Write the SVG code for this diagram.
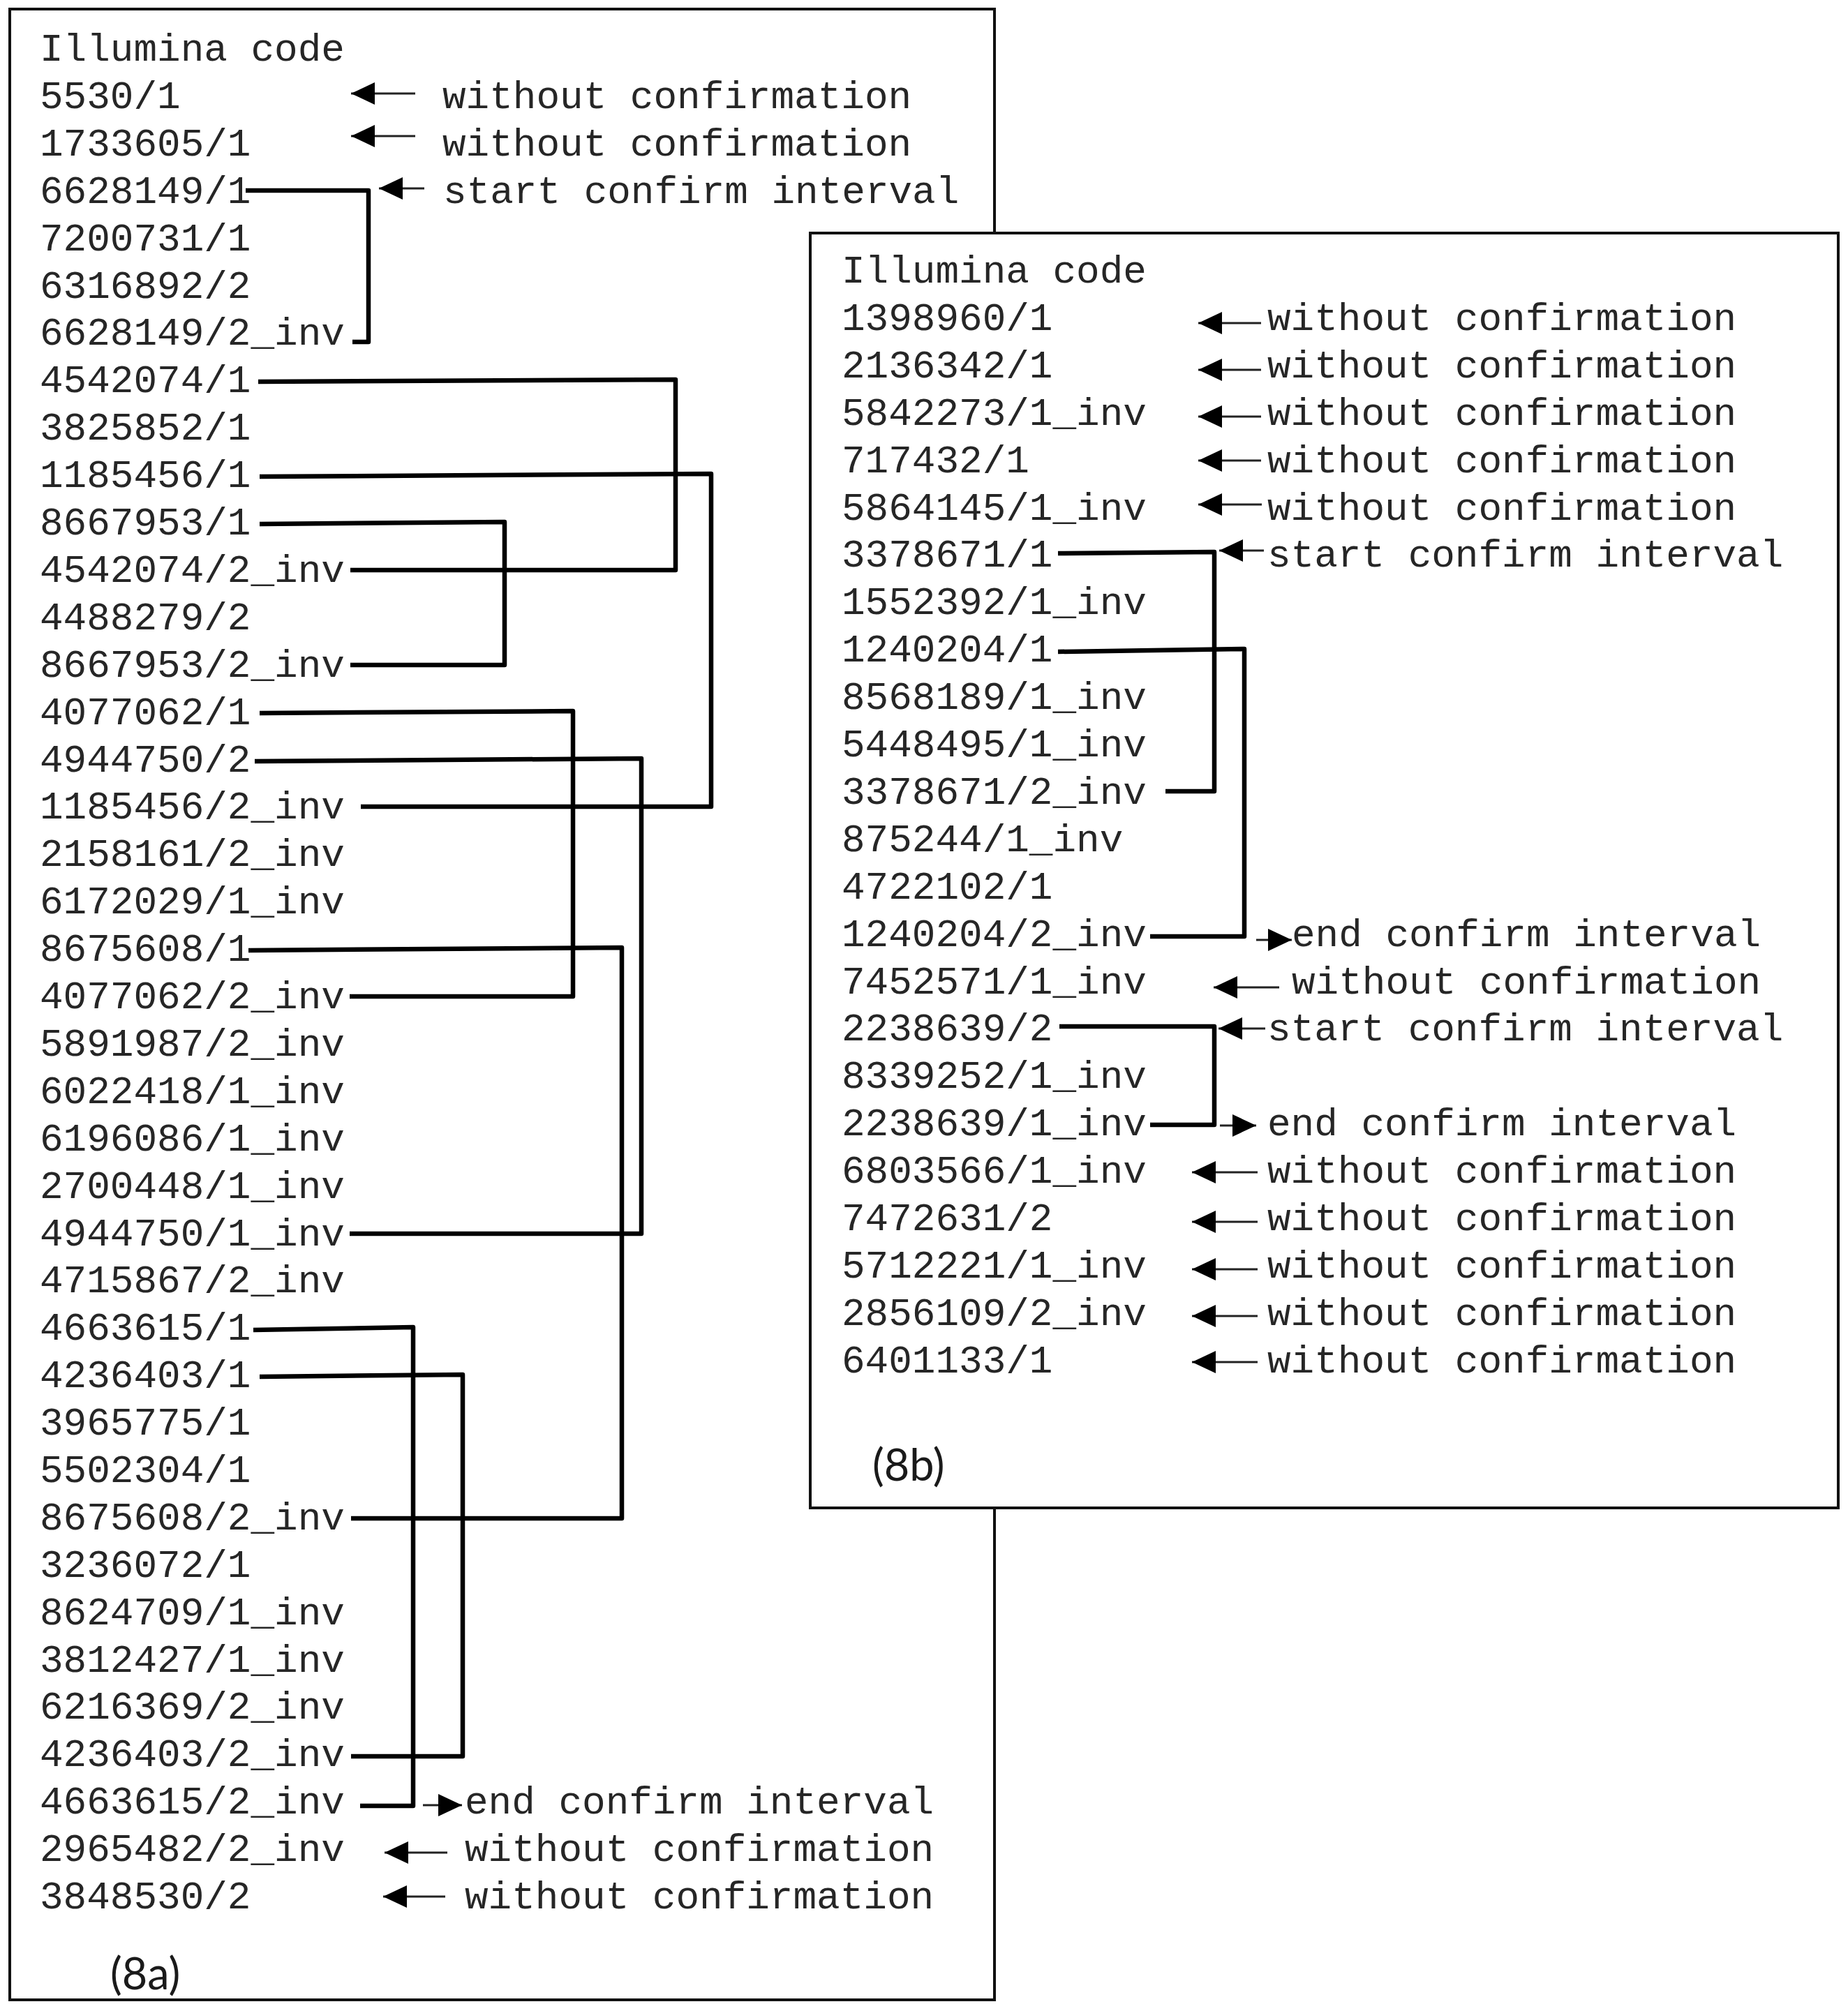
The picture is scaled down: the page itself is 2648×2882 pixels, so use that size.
<svg xmlns="http://www.w3.org/2000/svg" width="2648" height="2882" viewBox="0 0 2648 2882">
<defs>
<style>
.t{font-family:"Liberation Mono","Courier New",monospace;font-size:56px;fill:#262626}
.lab{font-family:Lato,"Liberation Sans",sans-serif;font-size:63px;fill:#1a1a1a}
.box{fill:#fff;stroke:#111;stroke-width:4}
.c{fill:none;stroke:#000;stroke-width:6.5;stroke-linejoin:round}
.ar{fill:none;stroke:#222;stroke-width:3;marker-end:url(#ah)}
</style>
<marker id="ah" markerUnits="userSpaceOnUse" markerWidth="36" markerHeight="34" refX="34" refY="16" orient="auto">
<path d="M0,0 L34,16 L0,32 Z" fill="#000"/>
</marker>
</defs>
<rect width="2648" height="2882" fill="#fff"/>

<g id="panel-8a">
<rect class="box" x="14" y="13" width="1411" height="2853"/>
<g id="a-r0"><text class="t" x="57" y="87">Illumina code</text></g>
<g id="a-r1"><text class="t" x="57" y="155">5530/1</text></g>
<g id="a-r2"><text class="t" x="57" y="223">1733605/1</text></g>
<g id="a-r3"><text class="t" x="57" y="291">6628149/1</text></g>
<g id="a-r4"><text class="t" x="57" y="359">7200731/1</text></g>
<g id="a-r5"><text class="t" x="57" y="427">6316892/2</text></g>
<g id="a-r6"><text class="t" x="57" y="494">6628149/2_inv</text></g>
<g id="a-r7"><text class="t" x="57" y="562">4542074/1</text></g>
<g id="a-r8"><text class="t" x="57" y="630">3825852/1</text></g>
<g id="a-r9"><text class="t" x="57" y="698">1185456/1</text></g>
<g id="a-r10"><text class="t" x="57" y="766">8667953/1</text></g>
<g id="a-r11"><text class="t" x="57" y="834">4542074/2_inv</text></g>
<g id="a-r12"><text class="t" x="57" y="902">4488279/2</text></g>
<g id="a-r13"><text class="t" x="57" y="970">8667953/2_inv</text></g>
<g id="a-r14"><text class="t" x="57" y="1038">4077062/1</text></g>
<g id="a-r15"><text class="t" x="57" y="1106">4944750/2</text></g>
<g id="a-r16"><text class="t" x="57" y="1173">1185456/2_inv</text></g>
<g id="a-r17"><text class="t" x="57" y="1241">2158161/2_inv</text></g>
<g id="a-r18"><text class="t" x="57" y="1309">6172029/1_inv</text></g>
<g id="a-r19"><text class="t" x="57" y="1377">8675608/1</text></g>
<g id="a-r20"><text class="t" x="57" y="1445">4077062/2_inv</text></g>
<g id="a-r21"><text class="t" x="57" y="1513">5891987/2_inv</text></g>
<g id="a-r22"><text class="t" x="57" y="1581">6022418/1_inv</text></g>
<g id="a-r23"><text class="t" x="57" y="1649">6196086/1_inv</text></g>
<g id="a-r24"><text class="t" x="57" y="1717">2700448/1_inv</text></g>
<g id="a-r25"><text class="t" x="57" y="1785">4944750/1_inv</text></g>
<g id="a-r26"><text class="t" x="57" y="1852">4715867/2_inv</text></g>
<g id="a-r27"><text class="t" x="57" y="1920">4663615/1</text></g>
<g id="a-r28"><text class="t" x="57" y="1988">4236403/1</text></g>
<g id="a-r29"><text class="t" x="57" y="2056">3965775/1</text></g>
<g id="a-r30"><text class="t" x="57" y="2124">5502304/1</text></g>
<g id="a-r31"><text class="t" x="57" y="2192">8675608/2_inv</text></g>
<g id="a-r32"><text class="t" x="57" y="2260">3236072/1</text></g>
<g id="a-r33"><text class="t" x="57" y="2328">8624709/1_inv</text></g>
<g id="a-r34"><text class="t" x="57" y="2396">3812427/1_inv</text></g>
<g id="a-r35"><text class="t" x="57" y="2463">6216369/2_inv</text></g>
<g id="a-r36"><text class="t" x="57" y="2531">4236403/2_inv</text></g>
<g id="a-r37"><text class="t" x="57" y="2599">4663615/2_inv</text></g>
<g id="a-r38"><text class="t" x="57" y="2667">2965482/2_inv</text></g>
<g id="a-r39"><text class="t" x="57" y="2735">3848530/2</text></g>
<g id="a-n1"><text class="t" x="634" y="155">without confirmation</text></g>
<g id="a-n2"><text class="t" x="634" y="223">without confirmation</text></g>
<g id="a-n3"><text class="t" x="635" y="291">start confirm interval</text></g>
<g id="a-n37"><text class="t" x="666" y="2599">end confirm interval</text></g>
<g id="a-n38"><text class="t" x="666" y="2667">without confirmation</text></g>
<g id="a-n39"><text class="t" x="666" y="2735">without confirmation</text></g>
<g id="a-label"><text class="lab" x="158" y="2851">(8a)</text></g>
</g>

<g id="connectors-8a">
<path class="c" d="M352,273 H528 V490 H505"/>
<path class="c" d="M370,547 L968,544 V817 H502"/>
<path class="c" d="M372,683 L1019,679 V1156 H517"/>
<path class="c" d="M372,751 L723,748 V953 H502"/>
<path class="c" d="M372,1022 L821,1019 V1428 H501"/>
<path class="c" d="M365,1091 L919,1087 V1768 H501"/>
<path class="c" d="M356,1362 L891,1358 V2176 H503"/>
<path class="c" d="M363,1906 L592,1902 V2588 H516"/>
<path class="c" d="M372,1973 L663,1970 V2517 H503"/>
<line class="ar" x1="595" y1="134" x2="503" y2="134"/>
<line class="ar" x1="595" y1="195" x2="503" y2="195"/>
<line class="ar" x1="608" y1="270" x2="543" y2="270"/>
<line class="ar" x1="606" y1="2587" x2="662" y2="2587"/>
<line class="ar" x1="641" y1="2655" x2="551" y2="2655"/>
<line class="ar" x1="638" y1="2718" x2="549" y2="2718"/>
</g>

<g id="panel-8b">
<rect class="box" x="1161" y="334" width="1473" height="1827"/>
<g id="b-r0"><text class="t" x="1206" y="405">Illumina code</text></g>
<g id="b-r1"><text class="t" x="1206" y="473">1398960/1</text></g>
<g id="b-r2"><text class="t" x="1206" y="541">2136342/1</text></g>
<g id="b-r3"><text class="t" x="1206" y="609">5842273/1_inv</text></g>
<g id="b-r4"><text class="t" x="1206" y="677">717432/1</text></g>
<g id="b-r5"><text class="t" x="1206" y="745">5864145/1_inv</text></g>
<g id="b-r6"><text class="t" x="1206" y="812">3378671/1</text></g>
<g id="b-r7"><text class="t" x="1206" y="880">1552392/1_inv</text></g>
<g id="b-r8"><text class="t" x="1206" y="948">1240204/1</text></g>
<g id="b-r9"><text class="t" x="1206" y="1016">8568189/1_inv</text></g>
<g id="b-r10"><text class="t" x="1206" y="1084">5448495/1_inv</text></g>
<g id="b-r11"><text class="t" x="1206" y="1152">3378671/2_inv</text></g>
<g id="b-r12"><text class="t" x="1206" y="1220">875244/1_inv</text></g>
<g id="b-r13"><text class="t" x="1206" y="1288">4722102/1</text></g>
<g id="b-r14"><text class="t" x="1206" y="1356">1240204/2_inv</text></g>
<g id="b-r15"><text class="t" x="1206" y="1424">7452571/1_inv</text></g>
<g id="b-r16"><text class="t" x="1206" y="1491">2238639/2</text></g>
<g id="b-r17"><text class="t" x="1206" y="1559">8339252/1_inv</text></g>
<g id="b-r18"><text class="t" x="1206" y="1627">2238639/1_inv</text></g>
<g id="b-r19"><text class="t" x="1206" y="1695">6803566/1_inv</text></g>
<g id="b-r20"><text class="t" x="1206" y="1763">7472631/2</text></g>
<g id="b-r21"><text class="t" x="1206" y="1831">5712221/1_inv</text></g>
<g id="b-r22"><text class="t" x="1206" y="1899">2856109/2_inv</text></g>
<g id="b-r23"><text class="t" x="1206" y="1967">6401133/1</text></g>
<g id="b-n1"><text class="t" x="1816" y="473">without confirmation</text></g>
<g id="b-n2"><text class="t" x="1816" y="541">without confirmation</text></g>
<g id="b-n3"><text class="t" x="1816" y="609">without confirmation</text></g>
<g id="b-n4"><text class="t" x="1816" y="677">without confirmation</text></g>
<g id="b-n5"><text class="t" x="1816" y="745">without confirmation</text></g>
<g id="b-n6"><text class="t" x="1816" y="812">start confirm interval</text></g>
<g id="b-n14"><text class="t" x="1851" y="1356">end confirm interval</text></g>
<g id="b-n15"><text class="t" x="1851" y="1424">without confirmation</text></g>
<g id="b-n16"><text class="t" x="1816" y="1491">start confirm interval</text></g>
<g id="b-n18"><text class="t" x="1816" y="1627">end confirm interval</text></g>
<g id="b-n19"><text class="t" x="1816" y="1695">without confirmation</text></g>
<g id="b-n20"><text class="t" x="1816" y="1763">without confirmation</text></g>
<g id="b-n21"><text class="t" x="1816" y="1831">without confirmation</text></g>
<g id="b-n22"><text class="t" x="1816" y="1899">without confirmation</text></g>
<g id="b-n23"><text class="t" x="1816" y="1967">without confirmation</text></g>
<g id="b-label"><text class="lab" x="1250" y="2122">(8b)</text></g>
</g>

<g id="connectors-8b">
<path class="c" d="M1516,793 L1740,791 V1134 H1670"/>
<path class="c" d="M1516,934 L1783,930 V1342 H1648"/>
<path class="c" d="M1518,1471 H1740 V1612 H1648"/>
<line class="ar" x1="1807" y1="463" x2="1717" y2="463"/>
<line class="ar" x1="1807" y1="530" x2="1717" y2="530"/>
<line class="ar" x1="1807" y1="597" x2="1717" y2="597"/>
<line class="ar" x1="1807" y1="660" x2="1717" y2="660"/>
<line class="ar" x1="1808" y1="723" x2="1717" y2="723"/>
<line class="ar" x1="1811" y1="789" x2="1747" y2="789"/>
<line class="ar" x1="1800" y1="1347" x2="1851" y2="1347"/>
<line class="ar" x1="1833" y1="1415" x2="1739" y2="1415"/>
<line class="ar" x1="1813" y1="1474" x2="1746" y2="1474"/>
<line class="ar" x1="1748" y1="1613" x2="1800" y2="1613"/>
<line class="ar" x1="1802" y1="1680" x2="1708" y2="1680"/>
<line class="ar" x1="1802" y1="1751" x2="1708" y2="1751"/>
<line class="ar" x1="1802" y1="1819" x2="1708" y2="1819"/>
<line class="ar" x1="1802" y1="1886" x2="1708" y2="1886"/>
<line class="ar" x1="1802" y1="1952" x2="1708" y2="1952"/>
</g>
</svg>
